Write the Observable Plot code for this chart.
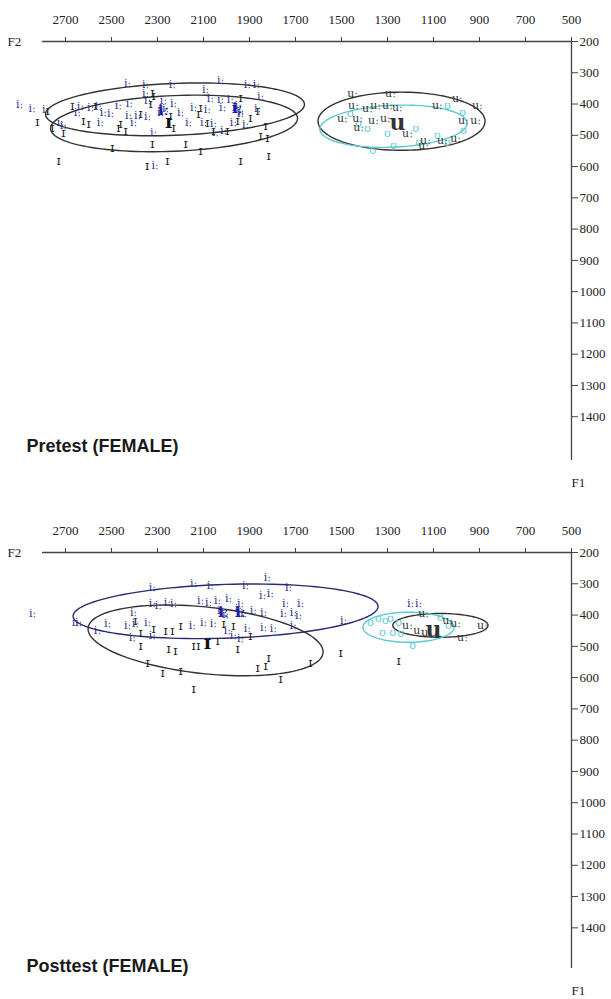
<!DOCTYPE html>
<html>
<head>
<meta charset="utf-8">
<script src="https://cdn.jsdelivr.net/npm/d3@7"></script>
<script src="https://cdn.jsdelivr.net/npm/@observablehq/plot@0.6"></script>
<style>
  html, body { margin: 0; padding: 0; background: #fff; }
  #chart { width: 611px; }
  #chart svg { display: block; }
</style>
</head>
<body>
<div id="chart"></div>
<script>
// ---- axis ticks ----
const ticksF2 = [2700, 2500, 2300, 2100, 1900, 1700, 1500, 1300, 1100, 900, 700, 500];
const ticksF1 = [200, 300, 400, 500, 600, 700, 800, 900, 1000, 1100, 1200, 1300, 1400];
const panelTitles = ["Pretest (FEMALE)", "Posttest (FEMALE)"];

// ---- Pretest tokens: [F2, F1] ----
const pre_iy = [[2900,400],[2845,415],[2787,417],[2430,334],[2352,337],[2235,337],[2026,325],[2091,354],[1909,337],[1870,337],
  [2352,366],[2635,408],[2591,411],[2557,408],[2470,405],[2422,398],[2343,389],[2274,389],[2230,398],[2070,382],
  [2026,385],[1983,385],[1852,376],[2648,427],[2535,427],[2504,430],[2426,437],[2387,437],[2343,440],[2274,421],
  [2200,427],[2143,411],[2083,417],[2017,411],[1952,417],[1939,430],[1865,414],[2722,459],[2548,459],[2404,459],
  [2165,459],[2100,459],[2057,462],[1970,459],[1917,465],[2709,469],[2317,491],[2048,491],[2013,485],[2310,597],
  [2265,414],[2287,427],[1961,411],[1939,424],[1948,405]];
const pre_ih = [[2822,456],[2778,421],[2757,475],[2709,491],[2730,581],[2670,405],[2622,453],[2600,462],[2570,405],[2496,539],
  [2461,462],[2439,485],[2470,475],[2374,430],[2322,526],[2317,373],[2243,437],[2257,581],[2178,526],[2113,549],
  [2230,475],[2122,430],[2083,459],[2057,485],[1996,485],[1939,581],[1865,421],[1852,501],[1830,469],[1822,507],
  [1817,565],[1952,453],[1896,443],[2330,398],[2322,363],[2113,411],[1939,379],[2345,597]];
const pre_uw = [[1452,366],[1287,366],[996,382],[909,405],[1448,405],[1387,414],[1352,405],[1300,405],[1257,411],[1083,405],
  [1496,446],[1430,446],[1361,453],[1309,446],[1426,475],[1213,494],[1135,517],[1143,533],[1061,517],[1004,510],
  [970,453],[917,453]];
const pre_uh = [[1426,462],[1387,478],[1300,494],[1274,533],[1178,478],[1365,549],[1165,523],[1083,501],[1039,405],[974,427],
  [970,485],[1461,430],[1039,523]];
const pre_iy_mean = [[2274,421],[1952,414]];
const pre_ih_mean = [[2252,456]];
const pre_uw_mean = [[1257,462]];

// ---- Posttest tokens: [F2, F1] ----
const post_iy = [[2843,395],[2657,424],[2643,424],[2561,449],[2517,427],[2322,312],[2322,363],[2296,369],[2404,392],[2430,433],
  [2343,424],[2409,472],[2396,427],[2322,465],[2257,360],[2230,363],[2143,299],[2070,306],[1917,306],[1822,280],
  [1730,312],[2113,353],[2078,360],[2039,353],[1991,347],[1939,363],[1843,338],[1809,331],[1743,363],[1678,363],
  [2013,392],[1939,392],[1883,385],[1839,392],[1752,395],[1709,392],[2148,433],[2100,424],[2057,427],[1996,449],
  [1970,465],[1939,475],[1909,443],[1839,440],[1796,443],[1709,433],[1687,401],[1491,417],[1200,363],[1165,363],
  [2026,385],[2004,398],[1948,379],[1926,395]];
const post_ih = [[2396,417],[2374,456],[2374,497],[2343,552],[2317,443],[2265,449],[2235,449],[2200,433],[2252,507],[2222,513],
  [2122,497],[2039,481],[2013,427],[1970,433],[1952,507],[1896,465],[2278,584],[2200,578],[2143,635],[1865,568],
  [1830,561],[1817,536],[1765,603],[1635,552],[2143,497],[1504,520],[1252,545]];
const post_uw = [[1213,433],[1165,449],[1130,456],[1039,417],[1004,427],[974,472],[887,433],[1143,395]];
const post_uh = [[1374,424],[1339,411],[1309,417],[1287,411],[1322,456],[1278,456],[1243,459],[1191,497],[1252,424],[1070,408],[1035,433]];
const post_iy_mean = [[2013,392],[1939,390]];
const post_ih_mean = [[2083,488]];
const post_uw_mean = [[1100,449]];

// ---- ellipses: [centerF2, centerF1, halfWidthF2, halfHeightF1, tilt] ----
const pre_ellipses = {
  iy: [2224, 417, 563, 83, 0.028],
  ih: [2228, 462, 537, 89, 0.03],
  uw: [1239, 455, 363, 93, 0.0],
  uh: [1274, 471, 320, 67, 0.03]
};
const post_ellipses = {
  iy: [2004, 388, 663, 86, 0.023],
  ih: [2091, 481, 511, 107, -0.072],
  uw: [1070, 433, 207, 38, 0.0],
  uh: [1209, 439, 198, 48, 0.0]
};

const colors = { iy: "#2b2b85", iyMean: "#1c1cb0", ih: "#1e1e1e", uw: "#333333", uh: "#5ccad0", axis: "#444" };

function ellipsePath([c2, c1, a, b, s]) {
  const pts = [];
  for (let i = 0; i <= 120; i++) {
    const t = (i / 120) * 2 * Math.PI;
    const dx = a * Math.cos(t);
    pts.push({F2: c2 + dx, F1: c1 + b * Math.sin(t) + s * dx});
  }
  return pts;
}

function labels(data, txt, fill, size, weight) {
  return Plot.text(data, {
    x: d => d[0], y: d => d[1], text: () => txt, fill,
    fontSize: size, fontWeight: weight || "normal", fontFamily: "DejaVu Serif"
  });
}

function panel(o) {
  return Plot.plot({
    width: 611,
    height: o.height,
    marginLeft: 42, marginRight: 40, marginTop: 41, marginBottom: o.marginBottom,
    x: {domain: [2800, 500]},
    y: {domain: [200, o.f1Max], reverse: true},
    style: {background: "#fff", overflow: "visible", fontFamily: "Liberation Serif"},
    marks: [
      Plot.line(ellipsePath(o.ell.iy), {x: "F2", y: "F1", stroke: o.iyEllColor, strokeWidth: 1.4}),
      Plot.line(ellipsePath(o.ell.ih), {x: "F2", y: "F1", stroke: "#333", strokeWidth: 1.4}),
      Plot.line(ellipsePath(o.ell.uw), {x: "F2", y: "F1", stroke: "#333", strokeWidth: 1.4}),
      Plot.line(ellipsePath(o.ell.uh), {x: "F2", y: "F1", stroke: colors.uh, strokeWidth: 1.4}),
      labels(o.uh, "ʊ", colors.uh, 11),
      labels(o.uw, "uː", colors.uw, 11),
      labels(o.ih, "ɪ", colors.ih, 13),
      labels(o.iy, "iː", colors.iy, 11),
      labels(o.iyMean, "iː", colors.iyMean, 15, "bold"),
      labels(o.ihMean, "ɪ", "#111", 19, "bold"),
      labels(o.uwMean, "u", "#333", 22, "bold"),
      Plot.ruleY([200], {stroke: colors.axis, strokeWidth: 1.3}),
      Plot.ruleX([500], {stroke: colors.axis, strokeWidth: 1.3}),
      Plot.axisX({anchor: "top", ticks: ticksF2, tickSize: 5, tickPadding: 13, tickFormat: d => String(d),
        fontSize: 13, stroke: colors.axis, fill: "#222", label: null}),
      Plot.axisY({anchor: "right", ticks: ticksF1, tickSize: 6, tickPadding: 2, tickFormat: d => String(d),
        fontSize: 13, stroke: colors.axis, fill: "#222", label: null}),
      Plot.text(["F2"], {frameAnchor: "top-left", dx: -35, dy: 0, textAnchor: "start", lineAnchor: "middle", fontSize: 13, fill: "#222"}),
      Plot.text(["F1"], {frameAnchor: "bottom-right", dx: 0, dy: 22, textAnchor: "start", lineAnchor: "middle", fontSize: 13, fill: "#222"}),
      Plot.text([o.title], {frameAnchor: "bottom-left", dx: -16, dy: o.titleDy, textAnchor: "start", lineAnchor: "middle",
        fontFamily: "Liberation Sans", fontWeight: "bold", fontSize: 18, fill: "#1a1a1a"})
    ]
  });
}

const chart = document.getElementById("chart");
chart.append(panel({
  height: 511, marginBottom: 51, f1Max: 1540, ell: pre_ellipses, iyEllColor: "#333",
  iy: pre_iy, ih: pre_ih, uw: pre_uw, uh: pre_uh,
  iyMean: pre_iy_mean, ihMean: pre_ih_mean, uwMean: pre_uw_mean,
  title: panelTitles[0], titleDy: -14
}));
chart.append(panel({
  height: 488, marginBottom: 31, f1Max: 1530, ell: post_ellipses, iyEllColor: "#2a2a70",
  iy: post_iy, ih: post_ih, uw: post_uw, uh: post_uh,
  iyMean: post_iy_mean, ihMean: post_ih_mean, uwMean: post_uw_mean,
  title: panelTitles[1], titleDy: -2
}));
</script>
</body>
</html>
